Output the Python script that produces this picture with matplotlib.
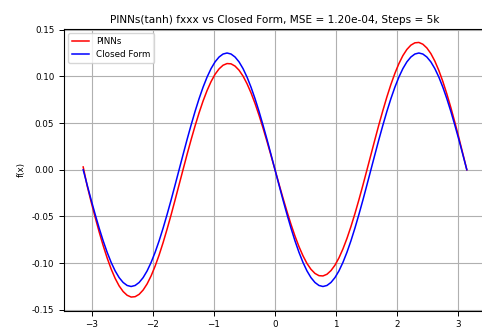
import numpy as np
import matplotlib
matplotlib.use('Agg')
import matplotlib.pyplot as plt


# sample points: -pi .. pi, 97 points
x = np.linspace(-np.pi, np.pi, 97)

pinns = [0.003, -0.0173, -0.0345, -0.0509, -0.0666, -0.0812, -0.0945, -0.1063,
         -0.1163, -0.1244, -0.1304, -0.1344, -0.1363, -0.1359, -0.1334, -0.1288,
         -0.1222, -0.1136, -0.1032, -0.0913, -0.0780, -0.0635, -0.0483, -0.0323,
         -0.0160, 0.0003, 0.0165, 0.0321, 0.0470, 0.0609, 0.0736, 0.0848,
         0.0944, 0.1022, 0.1080, 0.1119, 0.1137, 0.1134, 0.1110, 0.1066,
         0.1003, 0.0921, 0.0823, 0.0710, 0.0584, 0.0447, 0.0303, 0.0153,
         0.0,
         -0.0153, -0.0303, -0.0447, -0.0584, -0.0710, -0.0823, -0.0921, -0.1003,
         -0.1066, -0.1110, -0.1134, -0.1137, -0.1119, -0.1080, -0.1022, -0.0944,
         -0.0848, -0.0736, -0.0609, -0.0470, -0.0321, -0.0165, -0.0003, 0.0160,
         0.0323, 0.0483, 0.0635, 0.0780, 0.0913, 0.1032, 0.1136, 0.1222,
         0.1288, 0.1334, 0.1359, 0.1363, 0.1344, 0.1304, 0.1244, 0.1163,
         0.1063, 0.0945, 0.0812, 0.0666, 0.0509, 0.0345, 0.0173, 0.0]

closed_form = [0.0, -0.0163, -0.0324, -0.0478, -0.0625, -0.0761, -0.0884, -0.0992,
               -0.1083, -0.1155, -0.1207, -0.1239, -0.1250, -0.1239, -0.1207, -0.1155,
               -0.1083, -0.0992, -0.0884, -0.0761, -0.0625, -0.0478, -0.0324, -0.0163,
               0.0, 0.0163, 0.0324, 0.0478, 0.0625, 0.0761, 0.0884, 0.0992,
               0.1083, 0.1155, 0.1207, 0.1239, 0.1250, 0.1239, 0.1207, 0.1155,
               0.1083, 0.0992, 0.0884, 0.0761, 0.0625, 0.0478, 0.0324, 0.0163,
               0.0,
               -0.0163, -0.0324, -0.0478, -0.0625, -0.0761, -0.0884, -0.0992, -0.1083,
               -0.1155, -0.1207, -0.1239, -0.1250, -0.1239, -0.1207, -0.1155, -0.1083,
               -0.0992, -0.0884, -0.0761, -0.0625, -0.0478, -0.0324, -0.0163, 0.0,
               0.0163, 0.0324, 0.0478, 0.0625, 0.0761, 0.0884, 0.0992, 0.1083,
               0.1155, 0.1207, 0.1239, 0.1250, 0.1239, 0.1207, 0.1155, 0.1083,
               0.0992, 0.0884, 0.0761, 0.0625, 0.0478, 0.0324, 0.0163, 0.0]

yticks = [-0.15, -0.10, -0.05, 0.00, 0.05, 0.10, 0.15]
xticks = [-3, -2, -1, 0, 1, 2, 3]

fig = plt.figure(figsize=(4.82, 3.34), dpi=100)
# the original is cropped: right spine and x label fall just outside
ax = fig.add_axes([64 / 482, (334 - 310.5) / 334, (486 - 64) / 482, (310.5 - 29) / 334])

ax.plot(x, pinns, color='red', lw=1.1, label='PINNs')
ax.plot(x, closed_form, color='blue', lw=1.1, label='Closed Form')

ax.set_xlim(-1.1 * np.pi, 1.1 * np.pi)
ax.set_ylim(-0.1507, 0.1507)
ax.set_xticks(xticks)
ax.set_yticks(yticks)
ax.set_yticklabels(['%.2f' % t for t in yticks])
ax.tick_params(labelsize=6.3, length=3.5, width=0.7)
ax.grid(True, color='#b0b0b0', lw=0.8)
ax.set_axisbelow(True)

ax.set_title('PINNs(tanh) fxxx vs Closed Form, MSE = 1.20e-04, Steps = 5k', fontsize=7.6, pad=4)
ax.set_xlabel('x', fontsize=6.3, labelpad=2)
ax.set_ylabel('f(x)', fontsize=6.3)
ax.legend(loc='upper left', fontsize=6.3)

fig.savefig('out.png', dpi=100)
